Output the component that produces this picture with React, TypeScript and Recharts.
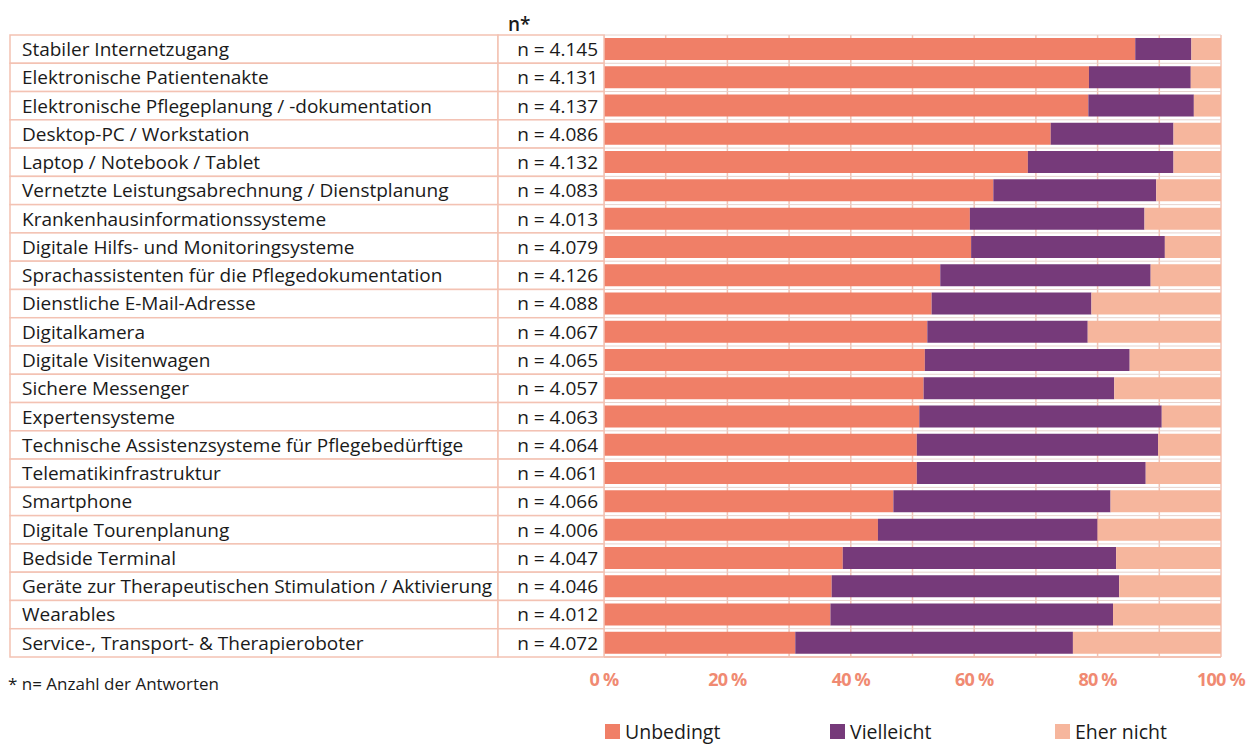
import { Bar, BarChart, CartesianGrid, XAxis, YAxis } from "recharts"

const categories = [
  "Stabiler Internetzugang",
  "Elektronische Patientenakte",
  "Elektronische Pflegeplanung / -dokumentation",
  "Desktop-PC / Workstation",
  "Laptop / Notebook / Tablet",
  "Vernetzte Leistungsabrechnung / Dienstplanung",
  "Krankenhausinformationssysteme",
  "Digitale Hilfs- und Monitoringsysteme",
  "Sprachassistenten für die Pflegedokumentation",
  "Dienstliche E-Mail-Adresse",
  "Digitalkamera",
  "Digitale Visitenwagen",
  "Sichere Messenger",
  "Expertensysteme",
  "Technische Assistenzsysteme für Pflegebedürftige",
  "Telematikinfrastruktur",
  "Smartphone",
  "Digitale Tourenplanung",
  "Bedside Terminal",
  "Geräte zur Therapeutischen Stimulation / Aktivierung",
  "Wearables",
  "Service-, Transport- & Therapieroboter",
]

const counts = [
  "4.145", "4.131", "4.137", "4.086", "4.132", "4.083", "4.013", "4.079",
  "4.126", "4.088", "4.067", "4.065", "4.057", "4.063", "4.064", "4.061",
  "4.066", "4.006", "4.047", "4.046", "4.012", "4.072",
]

const unbedingt = [
  86.1, 78.6, 78.5, 72.4, 68.7, 63.1, 59.3, 59.5, 54.5, 53.1, 52.4, 52.0,
  51.8, 51.1, 50.7, 50.7, 46.9, 44.4, 38.7, 36.9, 36.7, 31.0,
]
const vielleicht = [
  9.1, 16.5, 17.1, 19.9, 23.6, 26.4, 28.3, 31.4, 34.1, 25.9, 26.0, 33.2,
  30.9, 39.3, 39.1, 37.1, 35.2, 35.6, 44.3, 46.6, 45.8, 45.0,
]
const eherNicht = [
  4.8, 4.9, 4.4, 7.7, 7.7, 10.5, 12.4, 9.1, 11.4, 21.0, 21.6, 14.8,
  17.3, 9.6, 10.2, 12.2, 17.9, 20.0, 17.0, 16.5, 17.5, 24.0,
]

const xTicks = [0, 20, 40, 60, 80, 100]
const gridTicks = [0, 10, 20, 30, 40, 50, 60, 70, 80, 90, 100]

const C_UNBEDINGT = "#f07f67"
const C_VIELLEICHT = "#763a7a"
const C_EHER_NICHT = "#f6b69d"
const BORDER = "#f3c2b3"
const TEXT = "#1a1a1a"
const FONT = "'Open Sans', sans-serif"

// full page box; the chart itself sits 8px in from top/left
const PAGE_W = 1249
const PAGE_H = 744
const W = 1241
const H = 736
const TOP_AXIS_H = 1
const BOTTOM_AXIS_H = 30
const MARGIN = { top: 26, right: 28, bottom: 57, left: 0 }
const AXIS_W = 596
const ROW_H =
  (H - MARGIN.top - MARGIN.bottom - TOP_AXIS_H - BOTTOM_AXIS_H) / categories.length

document.body.style.margin = "0"

const data = categories.map((name, i) => ({
  name,
  unbedingt: unbedingt[i],
  vielleicht: vielleicht[i],
  eherNicht: eherNicht[i],
}))

const legendItems = [
  { label: "Unbedingt", color: C_UNBEDINGT },
  { label: "Vielleicht", color: C_VIELLEICHT },
  { label: "Eher nicht", color: C_EHER_NICHT },
]

// Left-hand table: label cell + "n = ..." cell drawn per category row
function TableTick(props: any) {
  const { y, payload, index } = props
  const top = y - ROW_H / 2
  return (
    <g>
      <rect x={2} y={top} width={488} height={ROW_H} fill="#fff" stroke={BORDER} strokeWidth={1.5} />
      <rect x={490} y={top} width={106} height={ROW_H} fill="#fff" stroke={BORDER} strokeWidth={1.5} />
      <text x={14} y={y} dy="0.36em" fontSize={19} fill={TEXT} fontFamily={FONT}>
        {payload.value}
      </text>
      <text x={590} y={y} dy="0.36em" fontSize={19} fill={TEXT} fontFamily={FONT} textAnchor="end">
        {`n = ${counts[index]}`}
      </text>
    </g>
  )
}

export default function App() {
  return (
    <div
      style={{
        width: PAGE_W,
        height: PAGE_H,
        padding: "8px 0 0 8px",
        boxSizing: "border-box",
        overflow: "hidden",
        background: "#fff",
      }}
    >
      <div style={{ position: "relative", width: W, height: H, fontFamily: FONT }}>
        <div style={{ position: "absolute", left: 500, top: 3, fontSize: 19, fontWeight: 600, color: TEXT }}>
          n*
        </div>
        <div style={{ position: "absolute", left: 0, top: 664, fontSize: 17, color: TEXT }}>
          * n= Anzahl der Antworten
        </div>
        <div
          style={{
            position: "absolute",
            left: 597,
            top: 714,
            display: "flex",
            fontSize: 19.5,
            lineHeight: 1,
            color: TEXT,
          }}
        >
          {legendItems.map((it) => (
            <div key={it.label} style={{ width: 225, flex: "none", display: "flex", alignItems: "center" }}>
              <span style={{ width: 15, height: 15, background: it.color, marginRight: 5, display: "inline-block" }} />
              {it.label}
            </div>
          ))}
        </div>
        <BarChart
          width={W}
          height={H}
          data={data}
          layout="vertical"
          margin={MARGIN}
          barCategoryGap={3}
          style={{ overflow: "visible" }}
        >
          <CartesianGrid
            horizontal={false}
            stroke={BORDER}
            strokeWidth={1.5}
            verticalCoordinatesGenerator={({ offset }: any) =>
              gridTicks.map((t) => offset.left + (t * offset.width) / 100)
            }
          />
          <CartesianGrid
            vertical={false}
            stroke="#e6d2cc"
            strokeWidth={1}
            horizontalCoordinatesGenerator={({ offset }: any) =>
              Array.from({ length: categories.length + 1 }, (_, i) => offset.top + i * ROW_H)
            }
          />
          <XAxis
            type="number"
            xAxisId="top"
            orientation="top"
            domain={[0, 100]}
            ticks={gridTicks}
            tick={false}
            tickSize={13}
            tickLine={{ stroke: "#ddd0cc", strokeWidth: 1.5 }}
            axisLine={false}
            height={TOP_AXIS_H}
          />
          <XAxis
            type="number"
            domain={[0, 100]}
            ticks={xTicks}
            tickFormatter={(v) => `${v} %`}
            tickLine={false}
            axisLine={{ stroke: BORDER, strokeWidth: 2 }}
            tick={{ fill: "#f08a72", fontSize: 18, fontWeight: 700, fontFamily: FONT, letterSpacing: -0.8 }}
            tickMargin={10}
            height={BOTTOM_AXIS_H}
          />
          <YAxis
            type="category"
            dataKey="name"
            width={AXIS_W}
            tick={<TableTick />}
            tickLine={false}
            axisLine={false}
            interval={0}
          />
          <Bar dataKey="unbedingt" stackId="a" fill={C_UNBEDINGT} isAnimationActive={false} />
          <Bar dataKey="vielleicht" stackId="a" fill={C_VIELLEICHT} isAnimationActive={false} />
          <Bar dataKey="eherNicht" stackId="a" fill={C_EHER_NICHT} isAnimationActive={false} />
        </BarChart>
      </div>
    </div>
  )
}
